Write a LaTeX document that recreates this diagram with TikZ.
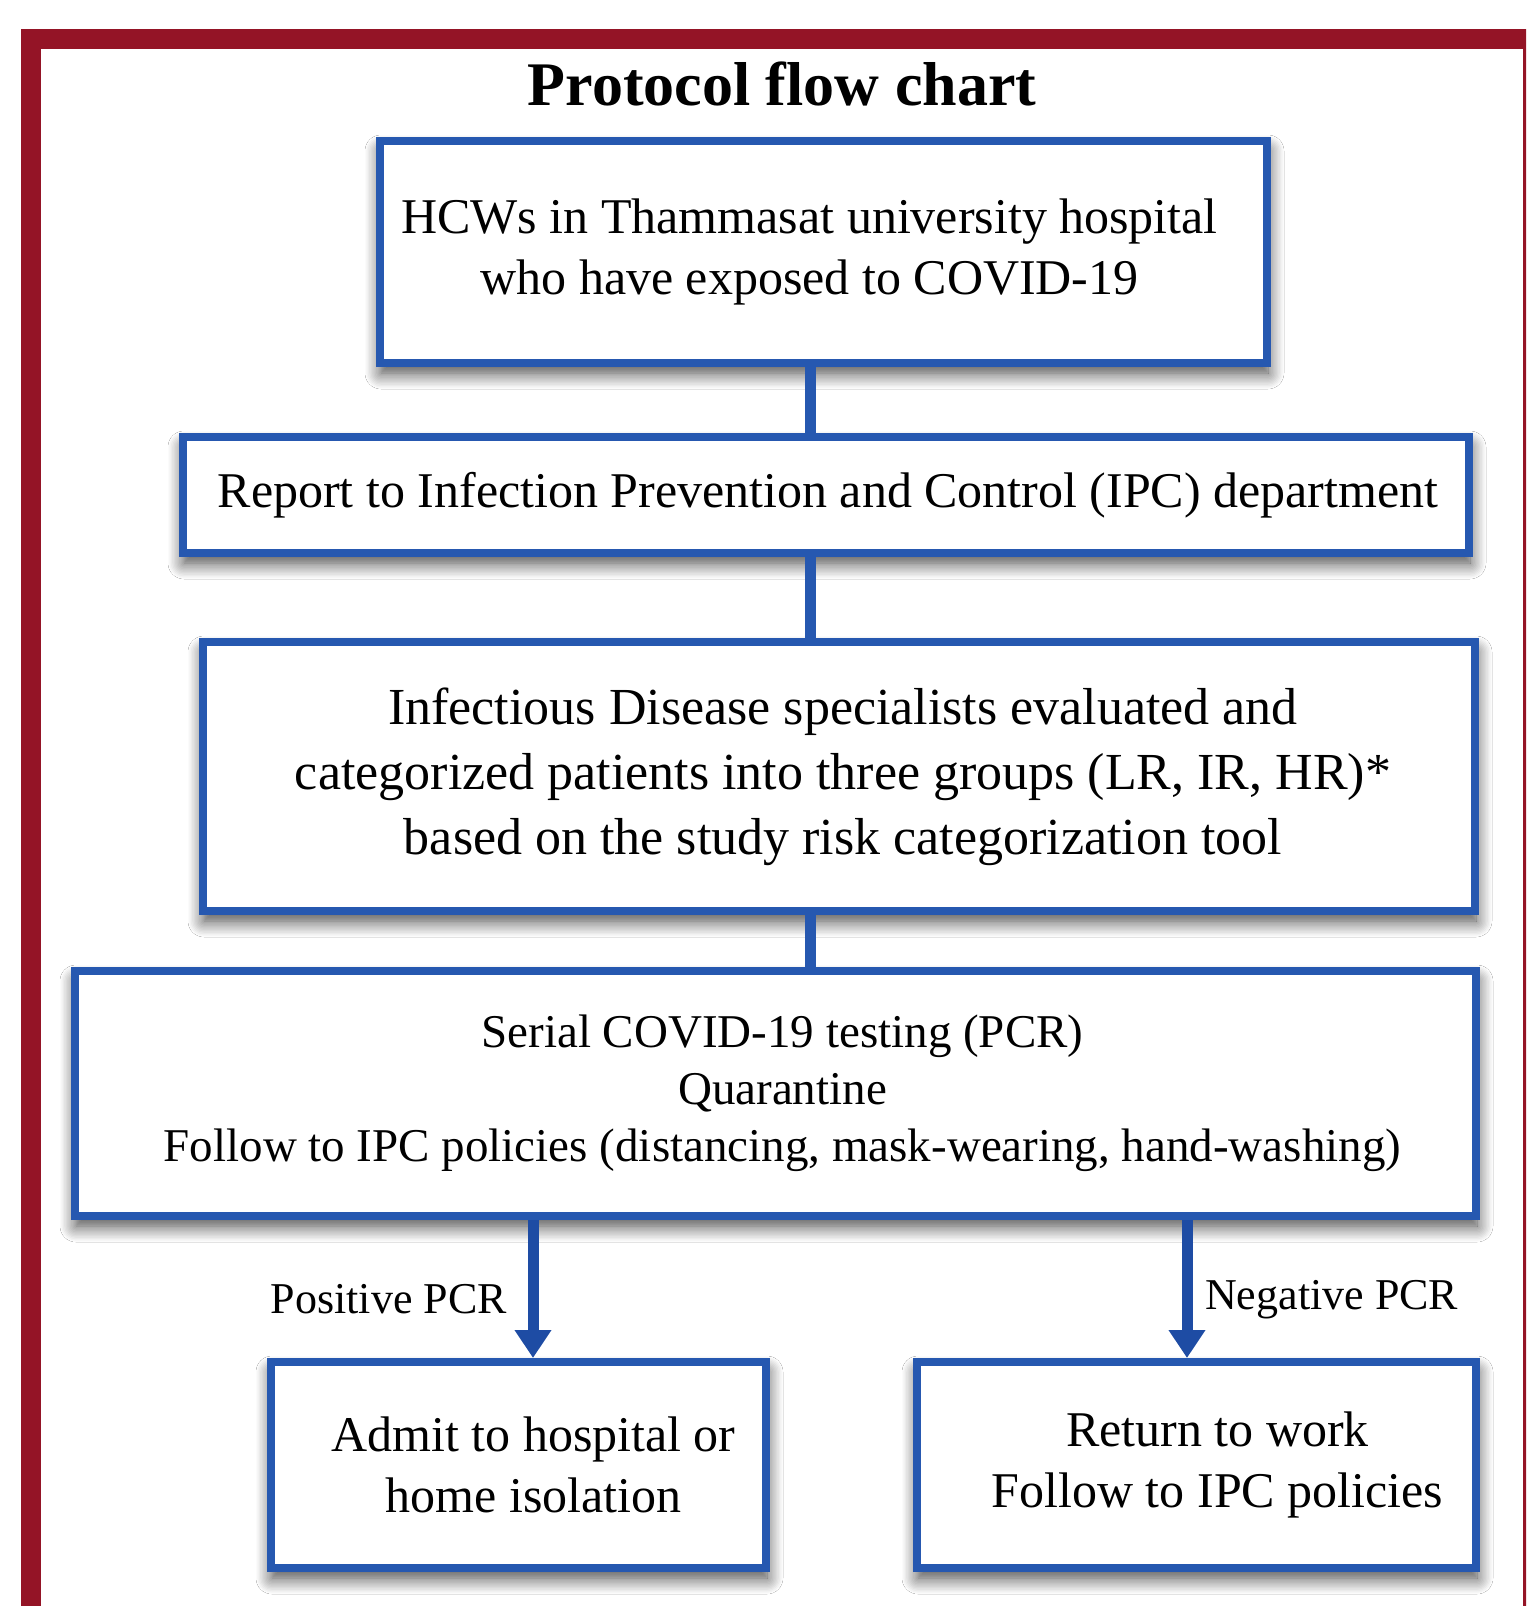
\documentclass[tikz,border=0pt]{standalone}
\usepackage{fontspec}
\setmainfont{Liberation Serif}
\usetikzlibrary{arrows.meta,shadows.blur}

\definecolor{framered}{RGB}{148,20,38}
\definecolor{boxblue}{RGB}{38,88,176}
\definecolor{arrowblue}{RGB}{30,76,164}

\tikzset{
	stepbox/.style={draw=boxblue, line width=8pt, fill=white, inner sep=0pt,
		blur shadow={shadow xshift=1pt, shadow yshift=-10pt, shadow blur radius=16pt, shadow blur steps=12, shadow opacity=75}},
	boxtext/.style={align=center, inner sep=0pt, font=\fontsize{50}{61}\selectfont},
	link/.style={draw=boxblue, line width=11pt},
	result/.style={draw=arrowblue, line width=11pt, -{Triangle[width=35pt,length=28pt]}},
	pcr/.style={inner sep=0pt, font=\fontsize{44}{52}\selectfont}
}

\begin{document}
\begin{tikzpicture}[x=1pt, y=-1pt]
	\useasboundingbox (0,0) rectangle (1526,1606);
	\clip (0,0) rectangle (1526,1606);
	\fill[white] (0,0) rectangle (1526,1606);
	\draw[framered, line width=20pt] (31,39) rectangle (1533,1650);

	\node[font=\fontsize{62}{74}\selectfont\bfseries, anchor=base] (title) at (782,105) {Protocol flow chart};

	\node[stepbox, minimum width=887pt, minimum height=222pt,
		label={[boxtext, xshift=-14pt]center:{HCWs in Thammasat university hospital\\who have exposed to COVID-19}}] (hcw) at (823.5,252) {};
	\node[stepbox, minimum width=1286pt, minimum height=116pt,
		label={[boxtext, xshift=2pt]center:{Report to Infection Prevention and Control (IPC) department}}] (report) at (826,495) {};
	\node[stepbox, minimum width=1272pt, minimum height=269pt,
		label={[boxtext, xshift=4pt, font=\fontsize{52}{65}\selectfont]center:{Infectious Disease specialists evaluated and\\categorized patients into three groups (LR, IR, HR)*\\based on the study risk categorization tool}}] (specialists) at (839,776.5) {};
	\node[stepbox, minimum width=1401pt, minimum height=245pt,
		label={[boxtext, xshift=7pt, font=\fontsize{47}{57}\selectfont]center:{Serial COVID-19 testing (PCR)\\Quarantine\\Follow to IPC policies (distancing, mask-wearing, hand-washing)}}] (testing) at (775.5,1093.5) {};
	\node[stepbox, minimum width=495pt, minimum height=206pt,
		label={[boxtext, xshift=15pt]center:{Admit to hospital or\\home isolation}}] (admit) at (518.5,1465) {};
	\node[stepbox, minimum width=559pt, minimum height=206pt,
		label={[boxtext, xshift=21pt]center:{Return to work\\Follow to IPC policies}}] (work) at (1196.5,1465) {};

	\coordinate (spine) at (810,0);
	\draw[link] (spine |- hcw.south) -- (spine |- report.north);
	\draw[link] (spine |- report.south) -- (spine |- specialists.north);
	\draw[link] (spine |- specialists.south) -- (spine |- testing.north);

	\coordinate (posx) at (533,0);
	\coordinate (negx) at (1187,0);
	\draw[result] (posx |- testing.south) -- (posx |- admit.north);
	\draw[result] (negx |- testing.south) -- (negx |- work.north);

	\node[pcr, anchor=base east] (positive) at (507,1313) {Positive PCR};
	\node[pcr, anchor=base west] (negative) at (1205,1309) {Negative PCR};
\end{tikzpicture}
\end{document}
